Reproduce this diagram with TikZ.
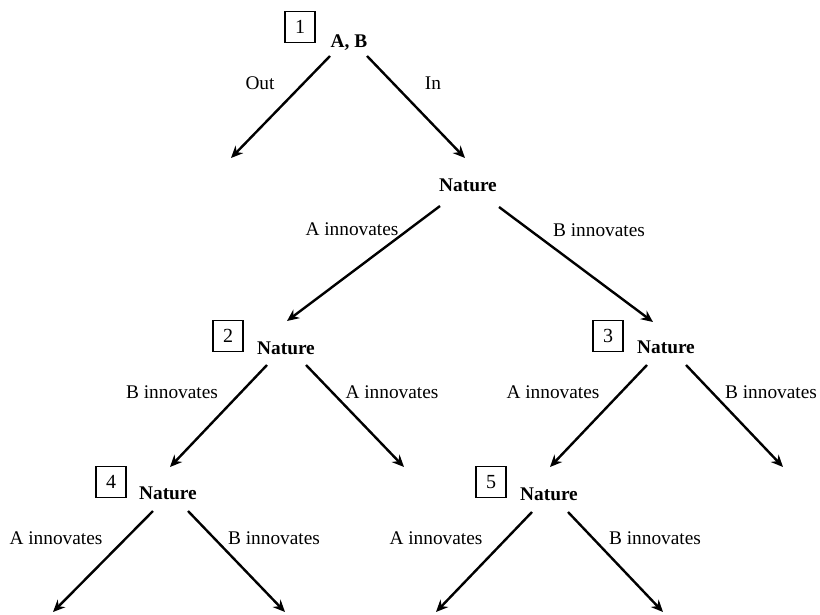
\documentclass[tikz,border=0pt]{standalone}
\usepackage{fontspec}
\setmainfont{Liberation Serif}
\usetikzlibrary{arrows.meta,calc}
\begin{document}
\begin{tikzpicture}[x=0.75pt,y=-0.75pt,
  lbl/.style={font=\fontsize{14.5}{17}\selectfont, inner sep=0pt},
  dec/.style={font=\fontsize{14.5}{17}\selectfont\bfseries, inner sep=0pt},
  numbox/.style={draw, line width=1pt, minimum width=22.5pt, minimum height=23pt, inner sep=0pt, font=\fontsize{15}{17}\selectfont},
  arr/.style={line width=1.8pt, -{Stealth[length=9pt,width=8pt]}}]
\useasboundingbox (0,0) rectangle (820,614);
% decision nodes
\node[dec] (ab) at (349,43) {A, B};
\node[dec] (n1) at (468,185) {Nature};
\node[dec] (n2) at (286,348) {Nature};
\node[dec] (n3) at (666,347) {Nature};
\node[dec] (n4) at (168,493) {Nature};
\node[dec] (n5) at (549,494) {Nature};
% numbered boxes
\node[numbox] (b1) at (300,27) {1};
\node[numbox] (b2) at (228,336) {2};
\node[numbox] (b3) at (608,336) {3};
\node[numbox] (b4) at (111,482) {4};
\node[numbox] (b5) at (491,482) {5};
% free ends
\coordinate (outend) at (231,158);
\coordinate (e2r) at (404,467);
\coordinate (e3r) at (783,467);
\coordinate (e4l) at (53,612);
\coordinate (e4r) at (285,612);
\coordinate (e5l) at (436,612);
\coordinate (e5r) at (663,612);
% arrows
\draw[arr] ($(ab)+(-19,13)$) -- (outend);
\draw[arr] ($(ab)+(18,13)$) -- ($(n1)+(-3,-27)$);
\draw[arr] ($(n1)+(-28,21)$) -- ($(n2)+(1,-27)$);
\draw[arr] ($(n1)+(31,22)$) -- ($(n3)+(-13,-25)$);
\draw[arr] ($(n2)+(-19,17)$) -- ($(n4)+(2,-26)$);
\draw[arr] ($(n2)+(20,17)$) -- (e2r);
\draw[arr] ($(n3)+(-19,18)$) -- ($(n5)+(1,-27)$);
\draw[arr] ($(n3)+(20,18)$) -- (e3r);
\draw[arr] ($(n4)+(-15,18)$) -- (e4l);
\draw[arr] ($(n4)+(20,18)$) -- (e4r);
\draw[arr] ($(n5)+(-17,18)$) -- (e5l);
\draw[arr] ($(n5)+(19,18)$) -- (e5r);
% labels
\node[lbl] (l1) at (260,83) {Out};
\node[lbl] (l2) at (433,83) {In};
\node[lbl] (l3) at (352,229) {A innovates};
\node[lbl] (l4) at (599,230) {B innovates};
\node[lbl] (l5) at (172,392) {B innovates};
\node[lbl] (l6) at (392,392) {A innovates};
\node[lbl] (l7) at (553,392) {A innovates};
\node[lbl] (l8) at (771,392) {B innovates};
\node[lbl] (l9) at (56,538) {A innovates};
\node[lbl] (l10) at (274,538) {B innovates};
\node[lbl] (l11) at (436,538) {A innovates};
\node[lbl] (l12) at (655,538) {B innovates};
\end{tikzpicture}
\end{document}
